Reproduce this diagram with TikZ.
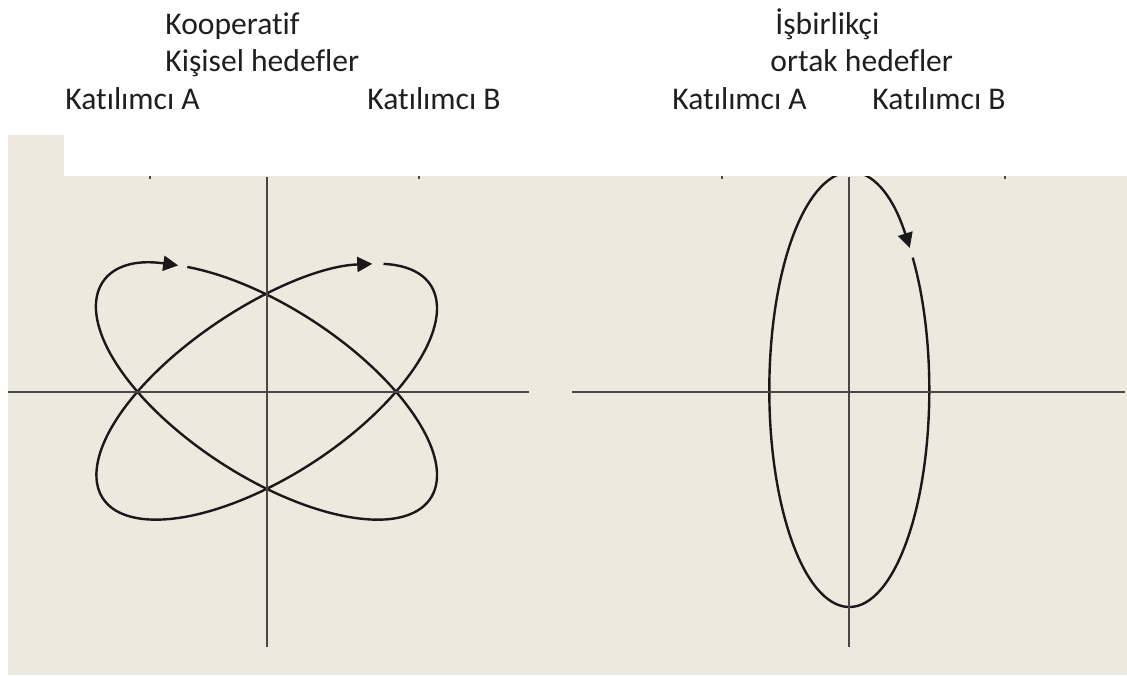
\documentclass[tikz,border=0pt]{standalone}
\usepackage{fontspec}
\setmainfont{Carlito}[Ligatures={NoCommon}]
\usetikzlibrary{arrows.meta}
\definecolor{paper}{RGB}{236,233,223}
\definecolor{axisgray}{RGB}{72,72,72}

\begin{document}
\begin{tikzpicture}[x=0.5pt, y=0.5pt,
  axis/.style={draw=axisgray, line width=1.1pt},
  tick/.style={draw=axisgray, line width=0.9pt},
  orbit/.style={draw=black!90, line width=1.2pt, -{Triangle[length=7.5pt, width=7.5pt]}},
  lbl/.style={anchor=base west, inner sep=0pt, text=black!88, font=\fontsize{15.8}{18}\selectfont}]
\useasboundingbox (0,0) rectangle (1127,675);
% background
\fill[paper] (7.5,0) rectangle (1127,540);

% left panel: two crossing orbits
\begin{scope}[shift={(266.7,283.3)}, rotate=-33]
  \draw[orbit] (133.5:195.5 and 84.6) arc[start angle=133.5, end angle=-223, x radius=195.5, y radius=84.6];
\end{scope}
\begin{scope}[shift={(266.7,283.3)}, rotate=33]
  \draw[orbit] (31:195.5 and 84.6) arc[start angle=31, end angle=-324, x radius=195.5, y radius=84.6];
\end{scope}
\draw[axis] (8,283.3) -- (529,283.3);
\draw[axis] (266.7,498) -- (266.7,28.3);

% right panel: one orbit
\begin{scope}[shift={(849.3,285)}]
  \draw[orbit] (37.6:80 and 217) arc[start angle=37.6, end angle=-319.1, x radius=80, y radius=217];
\end{scope}
\draw[axis] (572,283.3) -- (1125,283.3);
\draw[axis] (849.3,498) -- (849.3,28.3);

% white band on top
\fill[white] (64,499) rectangle (1127,545);
\foreach \tx in {150,419,722,1005}
  \draw[tick] (\tx,499) -- (\tx,496);

% labels
\node[lbl] (koop) at (165,640) {Kooperatif};
\node[lbl] (kisisel) at (165,603) {Kişisel hedefler};
\node[lbl] (leftA) at (65,565) {Katılımcı A};
\node[lbl] (leftB) at (367,565) {Katılımcı B};
\node[lbl] (isbir) at (775,640) {İşbirlikçi};
\node[lbl] (ortak) at (770,603) {ortak hedefler};
\node[lbl] (rightA) at (672,565) {Katılımcı A};
\node[lbl] (rightB) at (872,565) {Katılımcı B};
\end{tikzpicture}
\end{document}
